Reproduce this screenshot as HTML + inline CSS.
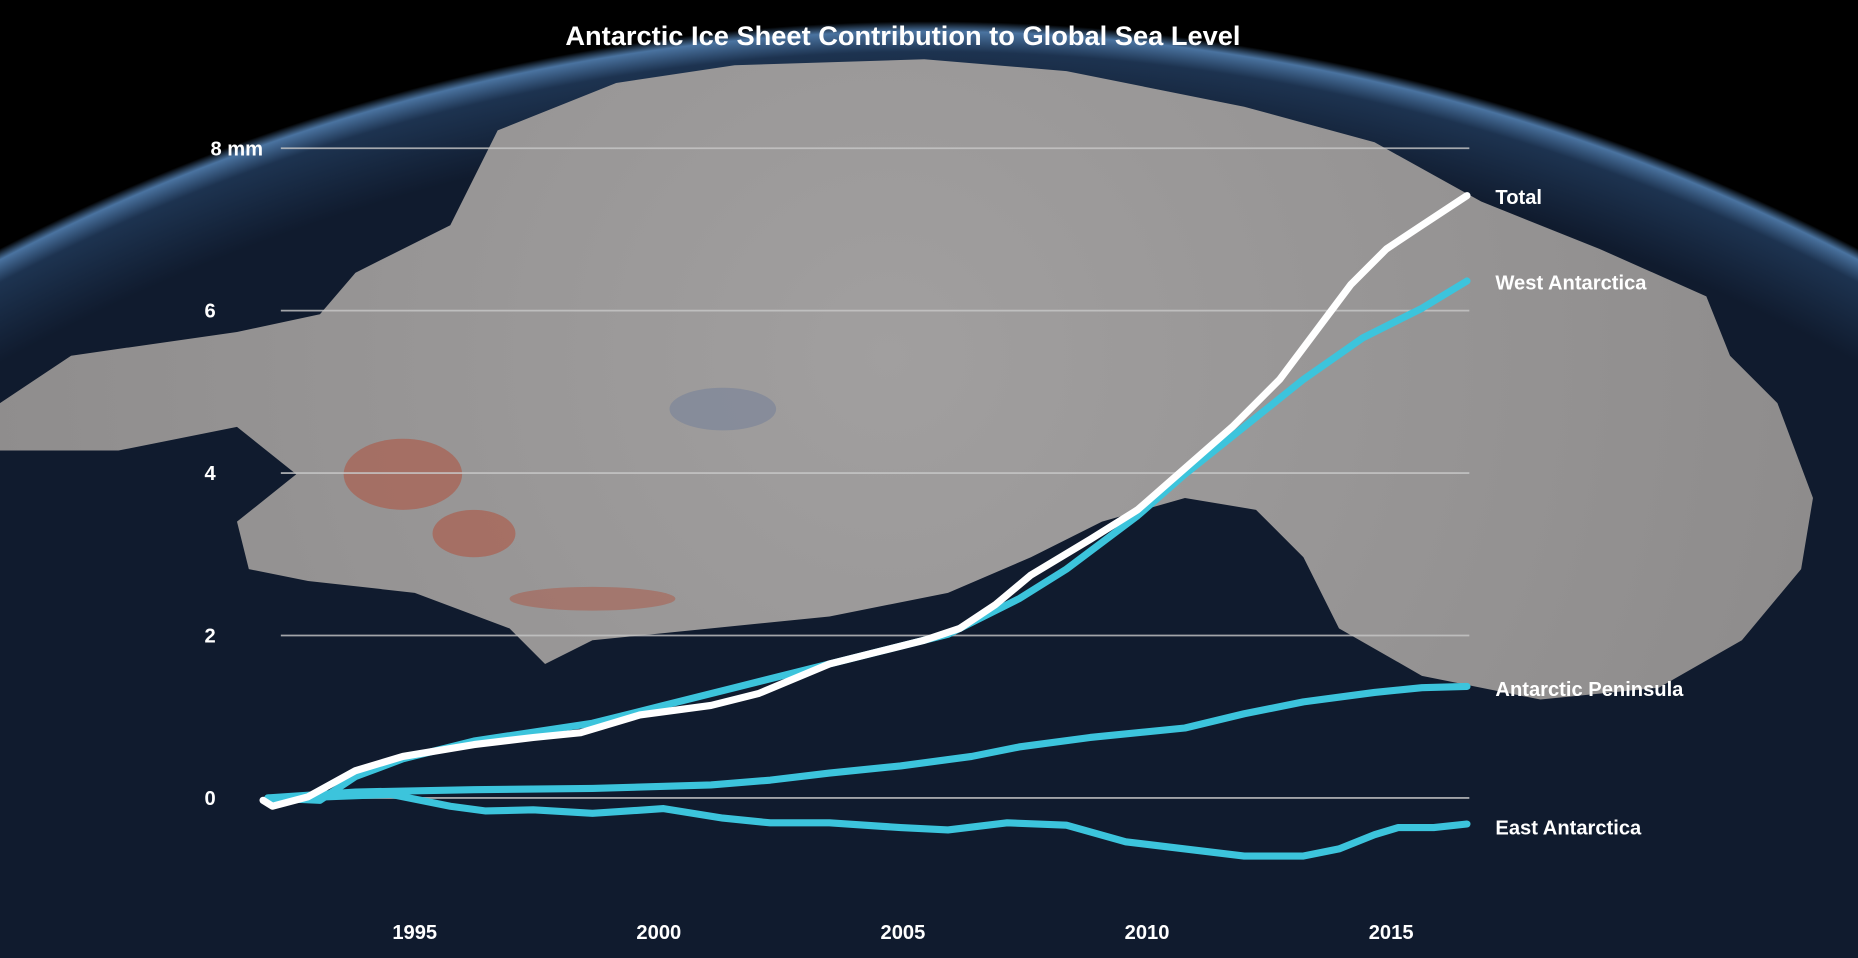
<!DOCTYPE html>
<html><head><meta charset="utf-8"><style>
html,body{margin:0;padding:0;background:#000;width:1858px;height:958px;overflow:hidden;}
svg{display:block;position:absolute;left:0;top:0;}
text{font-family:"Liberation Sans",sans-serif;font-weight:bold;fill:#fff;}
</style></head><body>
<svg width="1858" height="958" viewBox="0 0 1568 808" preserveAspectRatio="none" xmlns="http://www.w3.org/2000/svg">
<defs>
<radialGradient id="g" cx="784" cy="1718" r="1700" gradientUnits="userSpaceOnUse">
<stop offset="0.95" stop-color="#101b2e"/>
<stop offset="0.985" stop-color="#1d3350"/>
<stop offset="0.995" stop-color="#4a73a0"/>
<stop offset="1" stop-color="#000"/>
</radialGradient>
<radialGradient id="ice" cx="750" cy="300" r="800" gradientUnits="userSpaceOnUse">
<stop offset="0" stop-color="#a19f9f"/>
<stop offset="1" stop-color="#8e8c8c"/>
</radialGradient>
</defs>
<rect width="1568" height="808" fill="#000"/>
<circle cx="784" cy="1718" r="1700" fill="url(#g)"/>
<path fill="url(#ice)" d="M0,340 L60,300 L200,280 L270,265 L300,230 L380,190 L420,110 L520,70 L620,55 L780,50 L900,60 L1050,90 L1160,120 L1250,170 L1350,210 L1440,250 L1460,300 L1500,340 L1530,420 L1520,480 L1470,540 L1400,580 L1300,590 L1200,570 L1130,530 L1100,470 L1060,430 L1000,420 L930,440 L870,470 L800,500 L700,520 L600,530 L500,540 L460,560 L430,530 L350,500 L260,490 L210,480 L200,440 L250,400 L200,360 L100,380 L0,380 Z"/>
<ellipse cx="340" cy="400" rx="50" ry="30" fill="#b0503c" opacity="0.55"/>
<ellipse cx="400" cy="450" rx="35" ry="20" fill="#b0503c" opacity="0.55"/>
<ellipse cx="500" cy="505" rx="70" ry="10" fill="#b0503c" opacity="0.45"/>
<ellipse cx="610" cy="345" rx="45" ry="18" fill="#6a7a9a" opacity="0.45"/>
<g stroke="#c8c8c8" stroke-width="1.5" opacity="0.8">
<line x1="237" y1="125" x2="1240" y2="125"/>
<line x1="237" y1="262" x2="1240" y2="262"/>
<line x1="237" y1="399" x2="1240" y2="399"/>
<line x1="237" y1="536" x2="1240" y2="536"/>
<line x1="237" y1="673" x2="1240" y2="673"/>
</g>
<text x="762" y="38" font-size="23" text-anchor="middle">Antarctic Ice Sheet Contribution to Global Sea Level</text>
<g font-size="17" text-anchor="end">
<text x="222" y="131">8 mm</text>
<text x="182" y="268">6</text>
<text x="182" y="405">4</text>
<text x="182" y="542">2</text>
<text x="182" y="679">0</text>
</g>
<g font-size="17" text-anchor="middle">
<text x="350" y="792">1995</text><text x="556" y="792">2000</text><text x="762" y="792">2005</text><text x="968" y="792">2010</text><text x="1174" y="792">2015</text>
</g>
<g fill="none" stroke-width="6" stroke-linejoin="round" stroke-linecap="round">
<polyline stroke="#3cc4dc" points="226,674 330,670 380,680 410,684 450,683 500,686 560,682 610,690 650,694 700,694 760,698 800,700 850,694 900,696 950,710 1000,716 1050,722 1100,722 1130,716 1160,704 1180,698 1210,698 1238,695"/>
<polyline stroke="#3cc4dc" points="226,673 300,668 400,666 500,665 600,662 650,658 700,652 760,646 820,638 860,630 920,622 1000,614 1050,602 1100,592 1160,584 1200,580 1238,579"/>
<polyline stroke="#3cc4dc" points="226,673 270,675 300,655 340,640 400,625 500,610 560,595 620,580 700,560 800,535 860,505 900,480 960,435 1000,400 1050,360 1100,320 1150,285 1200,260 1238,237"/>
<polyline stroke="#ffffff" points="222,675 230,680 260,672 300,650 340,638 400,628 450,622 490,618 540,603 600,595 640,585 700,560 740,550 780,540 810,530 840,510 870,485 920,455 960,430 1000,395 1040,360 1080,320 1110,280 1140,240 1170,210 1200,190 1238,165"/>
</g>
<g font-size="17">
<text x="1262" y="172">Total</text>
<text x="1262" y="244">West Antarctica</text>
<text x="1262" y="587">Antarctic Peninsula</text>
<text x="1262" y="704">East Antarctica</text>
</g>
</svg>
</body></html>
